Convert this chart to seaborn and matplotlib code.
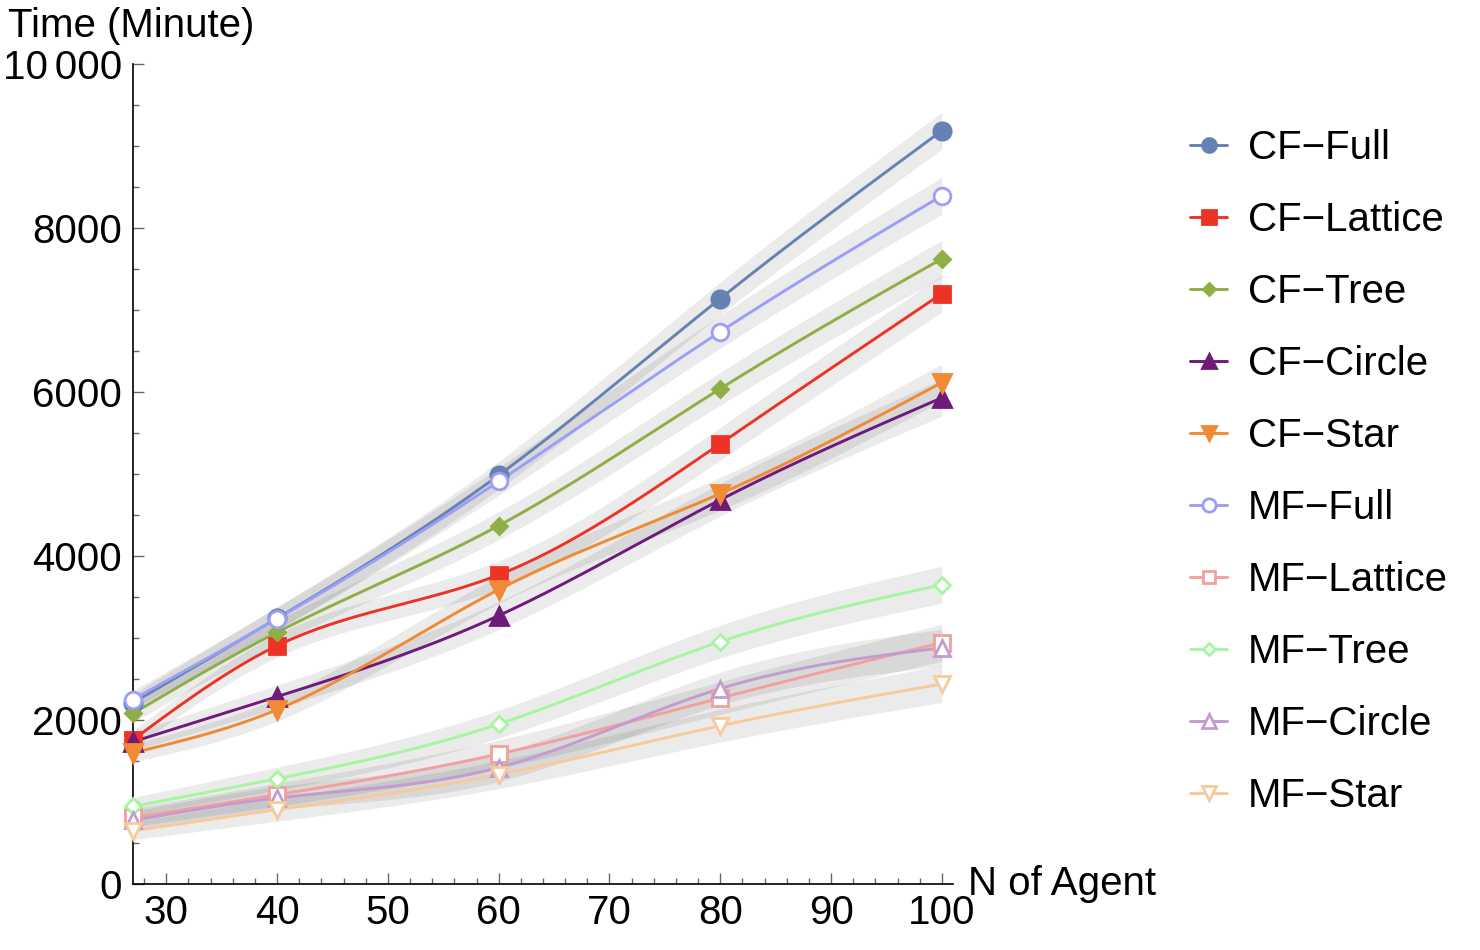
import numpy as np
import pandas as pd
import seaborn as sns
import matplotlib.pyplot as plt
from matplotlib.lines import Line2D
from matplotlib.ticker import MultipleLocator

# agent counts and mean time (minutes) per configuration
n_agents = [27, 40, 60, 80, 100]

cf_full = [2210, 3240, 4985, 7140, 9187]
cf_lattice = [1760, 2906, 3770, 5370, 7200]
cf_tree = [2080, 3070, 4370, 6040, 7625]
cf_circle = [1735, 2285, 3273, 4685, 5930]
cf_star = [1600, 2126, 3590, 4760, 6115]
mf_full = [2250, 3235, 4910, 6735, 8394]
mf_lattice = [812, 1089, 1585, 2268, 2943]
mf_tree = [946, 1284, 1950, 2955, 3650]
mf_circle = [776, 1049, 1420, 2382, 2880]
mf_star = [650, 906, 1333, 1930, 2439]

# half width of the grey uncertainty band at each agent count
band_half = [110, 140, 170, 200, 225]

labels = ['CF\u2212Full', 'CF\u2212Lattice', 'CF\u2212Tree', 'CF\u2212Circle', 'CF\u2212Star',
          'MF\u2212Full', 'MF\u2212Lattice', 'MF\u2212Tree', 'MF\u2212Circle', 'MF\u2212Star']
series = [cf_full, cf_lattice, cf_tree, cf_circle, cf_star,
          mf_full, mf_lattice, mf_tree, mf_circle, mf_star]
colors = ['#6482B4', '#EC3326', '#8FAE45', '#6F1A7B', '#F08A34',
          '#9B9EF6', '#F2A09D', '#A6F5A0', '#C29CD0', '#F8C99A']
markers = ['o', 's', 'D', '^', 'v', 'o', 's', 'D', '^', 'v']
msizes = [12.5, 12, 8, 12.5, 12.5, 12, 11.5, 8, 12, 12]
filled = [True] * 5 + [False] * 5


def natural_spline(x, y, xs):
    x = np.asarray(x, float)
    y = np.asarray(y, float)
    n = len(x)
    h = np.diff(x)
    A = np.zeros((n, n))
    b = np.zeros(n)
    A[0, 0] = A[-1, -1] = 1
    for i in range(1, n - 1):
        A[i, i - 1] = h[i - 1]
        A[i, i] = 2 * (h[i - 1] + h[i])
        A[i, i + 1] = h[i]
        b[i] = 6 * ((y[i + 1] - y[i]) / h[i] - (y[i] - y[i - 1]) / h[i - 1])
    M = np.linalg.solve(A, b)
    idx = np.clip(np.searchsorted(x, xs) - 1, 0, n - 2)
    x0, x1 = x[idx], x[idx + 1]
    hh = x1 - x0
    t0, t1 = x1 - xs, xs - x0
    return (M[idx] * t0 ** 3 / (6 * hh) + M[idx + 1] * t1 ** 3 / (6 * hh)
            + (y[idx] / hh - M[idx] * hh / 6) * t0
            + (y[idx + 1] / hh - M[idx + 1] * hh / 6) * t1)


sns.set_style('ticks')
plt.rcParams['font.family'] = ['Liberation Sans', 'DejaVu Sans']
plt.rcParams['text.color'] = 'black'
plt.rcParams['xtick.labelcolor'] = 'black'
plt.rcParams['ytick.labelcolor'] = 'black'

FS = 29

fig = plt.figure(figsize=(14.8, 9.5), dpi=100)
ax = fig.add_axes([133 / 1480, 66 / 950, 820 / 1480, 820 / 950])

xs = np.linspace(n_agents[0], n_agents[-1], 300)
bw = natural_spline(n_agents, band_half, xs)

rows = []
for lab, vals in zip(labels, series):
    ys = natural_spline(n_agents, vals, xs)
    ax.fill_between(xs, ys - bw, ys + bw, color='black', alpha=0.08, lw=0, zorder=1)
    rows.append(pd.DataFrame({'n': xs, 'time': ys, 'config': lab}))
curves = pd.concat(rows, ignore_index=True)

sns.lineplot(data=curves, x='n', y='time', hue='config', hue_order=labels,
             palette=colors, estimator=None, sort=False, lw=2.1, legend=False,
             ax=ax, zorder=3)

handles = []
for lab, vals, c, m, ms, f in zip(labels, series, colors, markers, msizes, filled):
    ax.plot(n_agents, vals, ls='none', marker=m, ms=ms, color=c,
            mfc=c if f else 'white', mec=c, mew=2, zorder=4, clip_on=False)
    handles.append(Line2D([], [], color=c, lw=2.1, marker=m, ms=ms * 0.8,
                          mfc=c if f else 'white', mec=c, mew=2))

ax.set_xlim(27, 101)
ax.set_ylim(0, 10000)
ax.xaxis.set_major_locator(MultipleLocator(10))
ax.xaxis.set_minor_locator(MultipleLocator(2))
ax.yaxis.set_minor_locator(MultipleLocator(500))
ax.set_yticks([0, 2000, 4000, 6000, 8000, 10000])
ax.set_yticklabels(['0', '2000', '4000', '6000', '8000', '10\u2006000'])
ax.tick_params(which='both', direction='in', color='#666666', labelsize=FS,
               labelcolor='black', width=1)
ax.tick_params(which='major', length=8)
ax.tick_params(which='minor', length=4)
ax.tick_params(axis='y', pad=8)
ax.tick_params(axis='x', pad=7)
for s in ['top', 'right']:
    ax.spines[s].set_visible(False)
for s in ['left', 'bottom']:
    ax.spines[s].set_color('black')
    ax.spines[s].set_linewidth(1.2)
ax.set_xlabel('')
ax.set_ylabel('')

fig.text(8 / 1480, 1 - 7 / 950, 'Time (Minute)', fontsize=FS, va='top', ha='left')
ax.text(1.018, 0.0, 'N of Agent', transform=ax.transAxes, fontsize=FS,
        va='center', ha='left')

fig.legend(handles, labels, loc='upper left', bbox_to_anchor=(1190 / 1480, 1 - 129 / 950),
           frameon=False, fontsize=FS, handlelength=0.92, handletextpad=0.52,
           labelspacing=0.845, borderaxespad=0, borderpad=0)

fig.savefig('out.png', dpi=100)
plt.close(fig)
